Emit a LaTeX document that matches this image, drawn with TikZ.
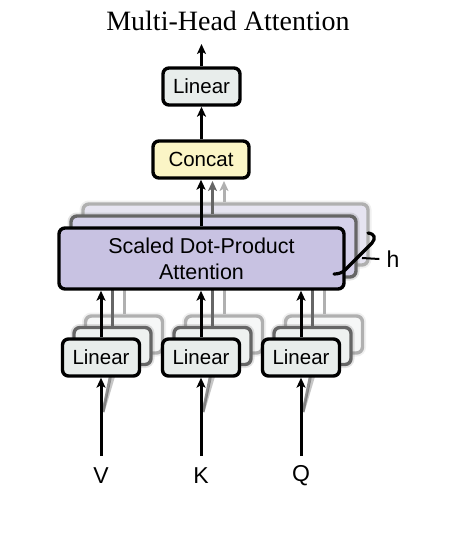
\documentclass[tikz,border=0pt]{standalone}
\usepackage{fontspec}
\setmainfont{Liberation Sans}
\newfontfamily\titlefont{Liberation Serif}
\usetikzlibrary{arrows.meta}

\definecolor{linfill}{HTML}{E8EDEB}
\definecolor{catfill}{HTML}{FBF5C6}
\definecolor{attfill}{HTML}{C8C2E2}
\definecolor{attmid}{HTML}{D5D1EA}
\definecolor{attfar}{HTML}{E6E4F1}
\definecolor{linmid}{HTML}{EEF1F0}
\definecolor{linfar}{HTML}{F6F7F7}
\definecolor{edgemid}{HTML}{666666}
\definecolor{edgefar}{HTML}{B0B0B0}

\tikzset{
  x=1pt, y=-1pt,
  box/.style={draw=black, line width=3.4pt, rounded corners=6pt, inner sep=0pt,
    font=\fontsize{20.5}{26}\selectfont, align=center},
  linbox/.style={box, fill=linfill, minimum width=77pt, minimum height=37pt},
  catbox/.style={box, fill=catfill, minimum width=96pt, minimum height=37pt},
  attbox/.style={box, fill=attfill, minimum width=285pt, minimum height=61pt,
    font=\fontsize{21.5}{26}\selectfont},
  soft/.style={preaction={draw=#1, line width=7pt, draw opacity=0.18}},
  midcopy/.style={draw=edgemid, soft=edgemid},
  farcopy/.style={draw=edgefar, soft=edgefar},
  tip/.style={-{Stealth[length=10pt,width=9pt,inset=2.5pt]}},
  arr/.style={tip, line width=3pt, draw=black},
  ghost/.style={line width=3pt},
  lbl/.style={font=\fontsize{23}{27}\selectfont, inner sep=0pt},
}

\begin{document}
\begin{tikzpicture}
\useasboundingbox[fill=white] (0,0) rectangle (459,542);

% title
\node (title) at (228,21) {\titlefont\fontsize{28}{32}\selectfont Multi-Head Attention};

% stacked copies of the attention block (h heads)
\node[attbox, farcopy, fill=attfar] (attC) at (225.5,234.5) {};
\node[attbox, midcopy, fill=attmid] (attB) at (213.5,246.5) {};
\draw[ghost, draw=edgefar, tip] (attC.north -| 224,0) -- (224,181);
\draw[ghost, draw=edgemid, tip] (attB.north -| 212.5,0) -- (212.5,181);

% stacked copies of the linear projections
\foreach \cx/\nm in {101/a,201/b,301/c}{
  \node[linbox, farcopy, fill=linfar] (\nm C) at (\cx+23,334.5) {};
  \node[linbox, midcopy, fill=linmid] (\nm B) at (\cx+11.5,346) {};
  \draw[ghost, draw=edgefar] (\nm C.north) -- (\nm C.north |- 0,290);
  \draw[ghost, draw=edgemid] (\nm B.north) -- (\nm B.north |- 0,290);
}

% inputs
\node[lbl] (V) at (101,476) {V};
\node[lbl] (K) at (201,476) {K};
\node[lbl] (Q) at (301,476) {Q};
\coordinate (vs) at (101,456);
\coordinate (ks) at (201,456);
\coordinate (qs) at (301,456);
\coordinate (vg) at (103,412);
\coordinate (kg) at (203,412);
\coordinate (qg) at (303,412);

\foreach \s/\g/\m in {vs/vg/aB,ks/kg/bB,qs/qg/cB}{
  \draw[line width=3pt, draw=edgefar, opacity=0.7] (\g) -- ([xshift=4pt]\m.south);
  \draw[line width=3pt, draw=edgemid, opacity=0.7] (\g) -- (\m.south);
}

% front linear projections
\node[linbox] (linV) at (101,357.5) {Linear};
\node[linbox] (linK) at (201,357.5) {Linear};
\node[linbox] (linQ) at (301,357.5) {Linear};
\draw[arr] (vs) -- (linV.south);
\draw[arr] (ks) -- (linK.south);
\draw[arr] (qs) -- (linQ.south);

% attention block
\node[attbox] (att) at (201.5,258.5) {Scaled Dot-Product\\Attention};
\foreach \l in {linV,linK,linQ}
  \draw[arr] (\l.north) -- (\l.north |- att.south);

% concat and output projection
\node[catbox] (cat) at (201,159.5) {Concat};
\node[linbox] (lout) at (201.5,86.5) {Linear};
\draw[arr] (att.north -| cat.south) -- (cat.south);
\draw[arr] (cat.north -| lout.south) -- (lout.south);
\coordinate (outtop) at (201.5,44);
\draw[arr] (lout.north) -- (outtop);

% head-count brace
\draw[line width=3.2pt, line cap=round, line join=round]
  (368,233) .. controls (375,234) and (376,238) .. (372,243)
  -- (345,270) .. controls (342,273) and (338,274) .. (334,274);
\node[lbl] (h) at (393,259) {h};
\coordinate (hl) at (362,258);
\draw[line width=2pt] (hl) -- ([xshift=-7pt]h.west);
\end{tikzpicture}
\end{document}
